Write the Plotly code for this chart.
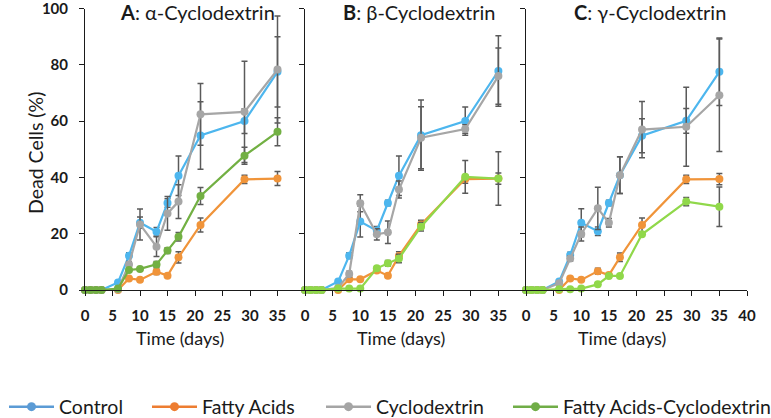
import plotly.graph_objects as go

days = [0, 1, 2, 3, 6, 8, 10, 13, 15, 17, 21, 29, 35]
series_names = ["Control", "Fatty Acids", "Cyclodextrin", "Fatty Acids-Cyclodextrin"]
panel_titles = ["<b>A</b>: α-Cyclodextrin", "<b>B</b>: β-Cyclodextrin", "<b>C</b>: γ-Cyclodextrin"]
x_ticks_ab = [0, 5, 10, 15, 20, 25, 30, 35]
x_ticks_c = [0, 5, 10, 15, 20, 25, 30, 35, 40]
y_ticks = [0, 20, 40, 60, 80, 100]
N = None

# Panel A
a_control = [0, 0, 0, 0, 2.7, 12.2, 23.9, 20.7, 30.9, 40.6, 54.9, 60.0, 77.5]
a_control_err = [N, N, N, N, N, 1, 2, 1.5, 1.5, 7, 12, 4.4, 12.5]
a_fatty = [0, 0, 0, 0, 0, 4.1, 3.6, 6.5, 5.1, 11.6, 23.1, 39.3, 39.6]
a_fatty_err = [N, N, N, N, N, N, N, 1, N, 2, 2.5, 1.5, 2.5]
a_cyclo = [0, 0, 0, 0, 0.3, 9.1, 23.3, 15.4, 27.2, 31.4, 62.4, 63.3, 78.3]
a_cyclo_err = [N, N, N, N, N, 1, 5.5, 3.5, 6, 6, 11, 18, 19]
a_facyc = [0, 0, 0, 0, 0.5, 7.1, 7.5, 9.1, 14.0, 18.9, 33.4, 47.7, 56.2]
a_facyc_err = [N, N, N, N, N, N, N, 1, 1, 1.5, 3, 3, 5]

# Panel B
b_control = [0, 0, 0, 0, 3.0, 12.2, 24.3, 21.1, 30.9, 40.6, 55.0, 60.0, 77.8]
b_control_err = [N, N, N, N, N, 1, 5.5, 1.5, 1, 7, 12.5, 5, 12.5]
b_fatty = [0, 0, 0, 0, 0, 3.8, 3.8, 6.9, 5.1, 12.1, 23.3, 39.4, 39.6]
b_fatty_err = [N, N, N, N, N, N, N, N, N, 1.5, 1.5, 1.5, 2]
b_cyclo = [0, 0, 0, 0, 0.8, 5.7, 30.8, 19.8, 20.5, 35.7, 54.1, 57.2, 76.0]
b_cyclo_err = [N, N, N, N, N, 1, 3, 2, 4, 3, 11, 1.5, 10]
b_facyc = [0, 0, 0, 0, 0.5, 0.5, 0.5, 7.7, 9.5, 11.2, 22.5, 40.2, 39.6]
b_facyc_err = [N, N, N, N, N, N, N, N, 1, 1.5, 1.5, 5.8, 9.5]

# Panel C
c_control = [0, 0, 0, 0, 3.0, 12.4, 23.9, 20.9, 30.9, 40.8, 54.8, 60.1, 77.5]
c_control_err = [N, N, N, N, N, 1, 5, 1.5, 1, 6.5, 6, 4.4, 12]
c_fatty = [0, 0, 0, 0, 0, 4.1, 3.6, 6.7, 5.3, 11.6, 23.1, 39.3, 39.4]
c_fatty_err = [N, N, N, N, N, N, N, 1, N, 1.5, 2.5, 1.5, 2]
c_cyclo = [0, 0, 0, 0, 2.4, 11.2, 19.9, 29.0, 23.9, 40.8, 57.0, 58.0, 69.2]
c_cyclo_err = [N, N, N, N, N, 1, 2.5, 7.5, 1.5, 6.5, 10, 14, 20]
c_facyc = [0, 0, 0, 0, 0.3, 0.3, 0.5, 2.0, 5.0, 5.0, 19.8, 31.4, 29.6]
c_facyc_err = [N, N, N, N, N, N, N, N, N, N, N, 1.5, 7]

panels = [
    [(a_control, a_control_err), (a_fatty, a_fatty_err), (a_cyclo, a_cyclo_err), (a_facyc, a_facyc_err)],
    [(b_control, b_control_err), (b_fatty, b_fatty_err), (b_cyclo, b_cyclo_err), (b_facyc, b_facyc_err)],
    [(c_control, c_control_err), (c_fatty, c_fatty_err), (c_cyclo, c_cyclo_err), (c_facyc, c_facyc_err)],
]

plot_colors = [
    ["#4DB6EE", "#F0943A", "#A6A6A6", "#72B043"],
    ["#4DB6EE", "#F0943A", "#A6A6A6", "#90D84A"],
    ["#4DB6EE", "#F0943A", "#A6A6A6", "#90D84A"],
]
legend_colors = ["#5B9BD5", "#ED7D31", "#A5A5A5", "#70AD47"]

FONT = "Lato"
TXT = "#1a1a1a"

fig = go.Figure()

W, H = 771, 418
x_px = [(85, 305), (305, 526), (526, 747)]
y_bottom = 1 - 290 / H
y_top = 1 - 8.5 / H

for p in range(3):
    xa = "x" if p == 0 else f"x{p+1}"
    ya = "y" if p == 0 else f"y{p+1}"
    for s in range(4):
        vals, errs = panels[p][s]
        fig.add_trace(go.Scatter(
            x=days, y=vals, xaxis=xa, yaxis=ya,
            mode="lines+markers",
            line=dict(color=plot_colors[p][s], width=2.2),
            marker=dict(color=plot_colors[p][s], size=8),
            error_y=dict(type="data", array=errs, visible=True,
                         color="#5a5a5a", thickness=1.5, width=3),
            cliponaxis=False, showlegend=False, name=series_names[s],
        ))

legend_keys = ["legend", "legend2", "legend3", "legend4"]
legend_left_px = [4, 147, 321, 508]
for s in range(4):
    fig.add_trace(go.Scatter(
        x=[None], y=[None], mode="lines+markers", name=series_names[s],
        line=dict(color=legend_colors[s], width=2.5),
        marker=dict(color=legend_colors[s], size=9),
        showlegend=True, legend=legend_keys[s],
    ))

layout = dict(
    width=W, height=H,
    margin=dict(l=0, r=0, t=0, b=0, autoexpand=False),
    paper_bgcolor="white", plot_bgcolor="white",
    font=dict(family=FONT, color=TXT),
)
for s in range(4):
    layout[legend_keys[s]] = dict(
        orientation="h", x=legend_left_px[s] / W, xanchor="left",
        y=(H - 407) / H, yanchor="middle",
        font=dict(family=FONT, size=19.5, color=TXT),
        itemwidth=45, bgcolor="rgba(0,0,0,0)",
    )

for p in range(3):
    xkey = "xaxis" if p == 0 else f"xaxis{p+1}"
    ykey = "yaxis" if p == 0 else f"yaxis{p+1}"
    xanchor = "y" if p == 0 else f"y{p+1}"
    yanchor = "x" if p == 0 else f"x{p+1}"
    ticks = x_ticks_c if p == 2 else x_ticks_ab
    layout[xkey] = dict(
        domain=[x_px[p][0] / W, x_px[p][1] / W], range=[0, 40], anchor=xanchor,
        showgrid=False, zeroline=False, showline=True, linecolor="#1a1a1a", linewidth=1,
        ticks="outside", ticklen=5, tickcolor="#1a1a1a", ticklabelstandoff=7,
        ticklabeloverflow="allow",
        tickmode="array", tickvals=x_ticks_c, ticktext=[f"<b>{t}</b>" if t in ticks else "" for t in x_ticks_c],
        tickfont=dict(family=FONT, size=15, color=TXT),
    )
    layout[ykey] = dict(
        domain=[y_bottom, y_top], range=[0, 100], anchor=yanchor,
        showgrid=False, zeroline=False, showline=True, linecolor="#1a1a1a", linewidth=1,
        ticks="outside", ticklen=5, tickcolor="#1a1a1a", ticklabelstandoff=8,
        ticklabeloverflow="allow",
        tickmode="array", tickvals=y_ticks,
        ticktext=[f"<b>{t}</b>" for t in y_ticks] if p == 0 else ["" for t in y_ticks],
        tickfont=dict(family=FONT, size=15, color=TXT),
    )

fig.update_layout(**layout)

annotations = []
title_x = [198, 420, 650]
for p in range(3):
    annotations.append(dict(text=panel_titles[p], x=title_x[p] / W, y=1 - 12 / H,
                            xref="paper", yref="paper", showarrow=False,
                            xanchor="center", yanchor="middle",
                            font=dict(family=FONT, size=20, color=TXT)))
    cx = (x_px[p][0] + x_px[p][1]) / 2 - 15
    annotations.append(dict(text="Time (days)", x=cx / W, y=1 - 338 / H,
                            xref="paper", yref="paper", showarrow=False,
                            xanchor="center", yanchor="middle",
                            font=dict(family=FONT, size=18, color=TXT)))
annotations.append(dict(text="Dead Cells (%)", x=35 / W, y=1 - 153 / H,
                        xref="paper", yref="paper", showarrow=False, textangle=-90,
                        xanchor="center", yanchor="middle",
                        font=dict(family=FONT, size=19.5, color=TXT)))
fig.update_layout(annotations=annotations)

fig.write_html("out.html")
